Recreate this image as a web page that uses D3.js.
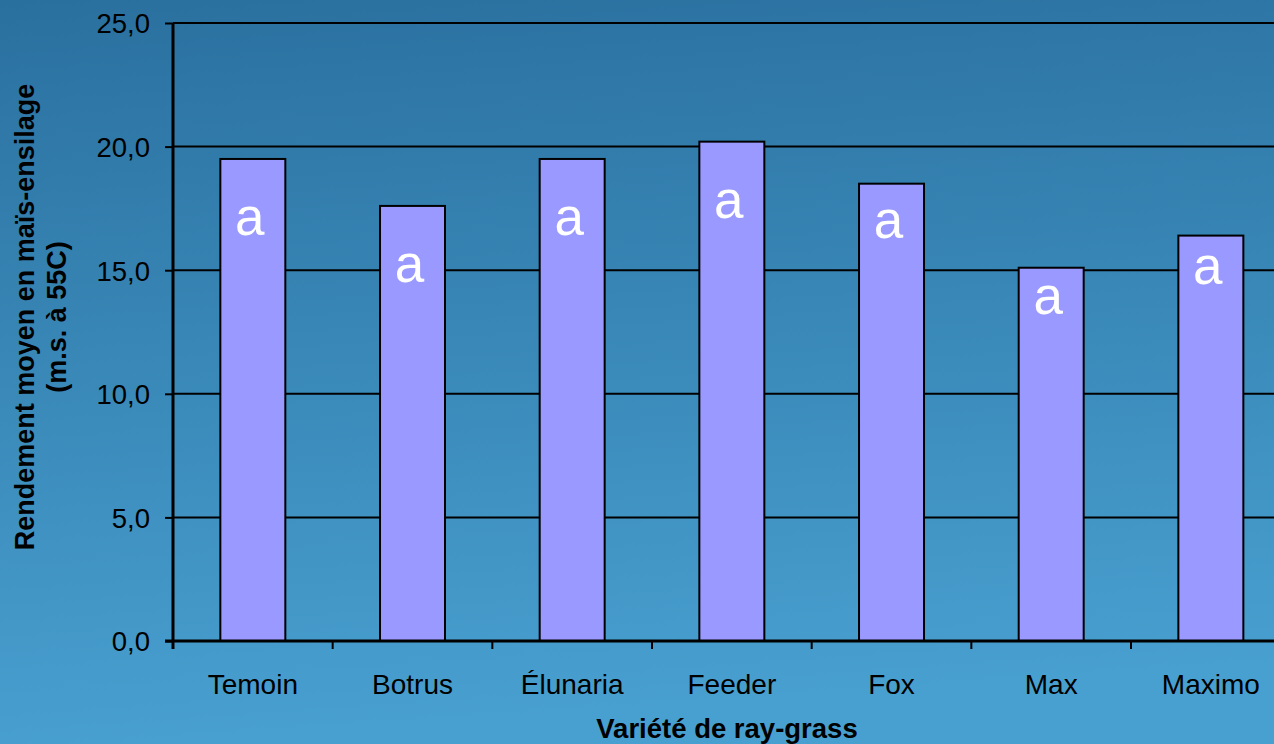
<!DOCTYPE html>
<html>
<head>
<meta charset="utf-8">
<script src="https://cdn.jsdelivr.net/npm/d3@7"></script>
<style>
  html, body { margin: 0; padding: 0; overflow: hidden; }
  svg { display: block; font-family: "Liberation Sans", Arial, sans-serif; }
</style>
</head>
<body>
<script>
// data
var varietes = ["Temoin", "Botrus", "\u00C9lunaria", "Feeder", "Fox", "Max", "Maximo"];
var rendement = [19.5, 17.6, 19.5, 20.2, 18.5, 15.1, 16.4];
var lettres = ["a", "a", "a", "a", "a", "a", "a"];
var yTicks = [0, 5, 10, 15, 20, 25];

var width = 1274, height = 744;
var plotLeft = 173, plotTop = 23, plotBottom = 641;
var step = 159.67;
var letterDrop = [76, 76, 76, 76, 54, 46, 48];

var svg = d3.select("body").append("svg")
    .attr("width", width)
    .attr("height", height);

var defs = svg.append("defs");
var grad = defs.append("linearGradient")
    .attr("id", "bg")
    .attr("x1", "0").attr("y1", "0")
    .attr("x2", "0.12").attr("y2", "1");
grad.append("stop").attr("offset", "0").attr("stop-color", "#2a709f");
grad.append("stop").attr("offset", "1").attr("stop-color", "#48a0d0");

svg.append("rect")
    .attr("width", width).attr("height", height)
    .attr("fill", "url(#bg)");

var y = d3.scaleLinear()
    .domain([0, 25])
    .range([plotBottom, plotTop]);

// one slot per variety, bars sit in the middle
var slot = d3.scaleBand()
    .domain(varietes)
    .range([plotLeft, plotLeft + step * varietes.length])
    .padding(0);
var x = d3.scaleBand()
    .domain(varietes)
    .range([plotLeft, plotLeft + step * varietes.length])
    .paddingInner(0.593)
    .paddingOuter(0.2965);

// gridlines
svg.append("g").selectAll("line")
    .data(yTicks.filter(function(d) { return d > 0; }))
    .enter().append("line")
    .attr("x1", plotLeft).attr("x2", width)
    .attr("y1", function(d) { return y(d); })
    .attr("y2", function(d) { return y(d); })
    .attr("stroke", "#000")
    .attr("stroke-width", 2);

// bars
svg.append("g").selectAll("rect")
    .data(rendement)
    .enter().append("rect")
    .attr("x", function(d, i) { return x(varietes[i]); })
    .attr("y", function(d) { return y(d); })
    .attr("width", x.bandwidth())
    .attr("height", function(d) { return plotBottom - y(d); })
    .attr("fill", "#9999ff")
    .attr("stroke", "#000")
    .attr("stroke-width", 2);

// letters
svg.append("g").selectAll("text")
    .data(lettres)
    .enter().append("text")
    .attr("x", function(d, i) { return x(varietes[i]) + x.bandwidth() / 2 - 3; })
    .attr("y", function(d, i) { return y(rendement[i]) + letterDrop[i]; })
    .attr("text-anchor", "middle")
    .attr("fill", "#fff")
    .style("font-size", "53px")
    .text(function(d) { return d; });

// y axis
var yAxis = d3.axisLeft(y)
    .tickValues(yTicks)
    .tickSize(8)
    .tickPadding(15)
    .tickFormat(function(d) { return d3.format(".1f")(d).replace(".", ","); });
var gy = svg.append("g")
    .attr("transform", "translate(" + plotLeft + ",0)")
    .call(yAxis);
gy.select(".domain").attr("stroke", "#000").attr("stroke-width", 3)
    .attr("d", "M0," + (plotBottom + 8) + "V" + plotTop);
gy.selectAll(".tick line").attr("stroke", "#000").attr("stroke-width", 2);
gy.selectAll(".tick text")
    .attr("fill", "#000")
    .style("font-size", "27.5px")
    .attr("dy", "0.36em");

// x axis
var xAxis = d3.axisBottom(x).tickSize(0).tickPadding(33);
var gx = svg.append("g")
    .attr("transform", "translate(0," + plotBottom + ")")
    .call(xAxis);
gx.select(".domain").attr("stroke", "#000").attr("stroke-width", 3)
    .attr("d", "M" + (plotLeft - 8) + ",0H" + width);
gx.selectAll(".tick text")
    .attr("fill", "#000")
    .style("font-size", "28px");

// boundary ticks between varieties
gx.append("g").selectAll("line")
    .data(varietes)
    .enter().append("line")
    .attr("x1", function(d) { return slot(d); })
    .attr("x2", function(d) { return slot(d); })
    .attr("y1", 0).attr("y2", 8)
    .attr("stroke", "#000")
    .attr("stroke-width", 2);

// axis titles
svg.append("text")
    .attr("x", 727)
    .attr("y", 738)
    .attr("text-anchor", "middle")
    .style("font-size", "27.5px")
    .style("font-weight", "bold")
    .attr("fill", "#000")
    .text("Vari\u00E9t\u00E9 de ray-grass");

var yt = svg.append("text")
    .attr("transform", "translate(34,317) rotate(-90)")
    .attr("text-anchor", "middle")
    .style("font-size", "27px")
    .style("font-weight", "bold")
    .attr("fill", "#000");
yt.append("tspan").attr("x", 0).attr("dy", 0).text("Rendement moyen en ma\u00EFs-ensilage");
yt.append("tspan").attr("x", 0).attr("dy", 32).text("(m.s. \u00E0 55C)");
</script>
</body>
</html>
